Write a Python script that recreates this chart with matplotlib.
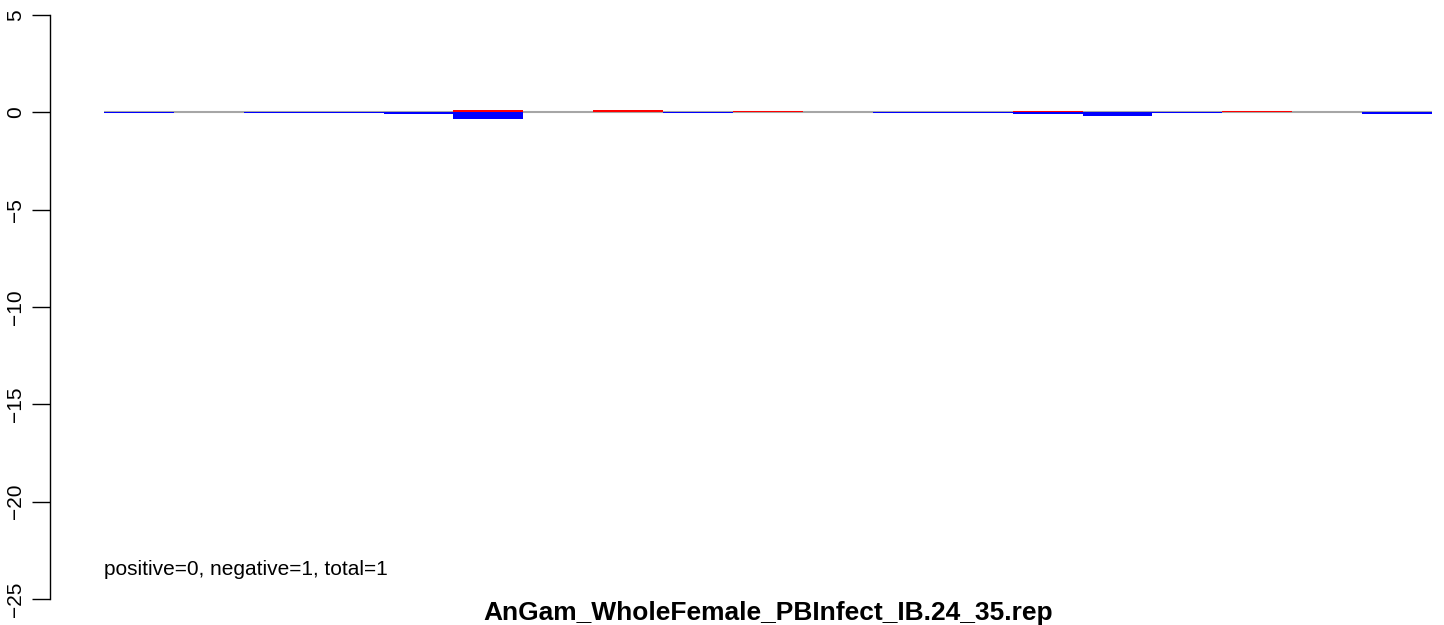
import numpy as np
import matplotlib
matplotlib.use('Agg')
import matplotlib.pyplot as plt

plt.rcParams['font.family'] = ['Liberation Sans', 'DejaVu Sans']

# one slot per window, positive part red, negative part blue
positive = [0, 0, 0, 0, 0, 0.1, 0, 0.1, 0, 0.05, 0, 0, 0, 0.05, 0, 0, 0.05, 0, 0]
negative = [-0.03, 0, -0.03, -0.03, -0.1, -0.36, 0, 0, -0.03, 0, 0,
            -0.03, -0.03, -0.1, -0.19, -0.03, 0, 0, -0.1]
yticks = [5, 0, -5, -10, -15, -20, -25]
note = 'positive=0, negative=1, total=1'
title = 'AnGam_WholeFemale_PBInfect_IB.24_35.rep'

W, H = 1444, 625
fig = plt.figure(figsize=(W / 100, H / 100), dpi=100)

# pixel layout of the plot region
ax_l, ax_r, ax_t, ax_b = 50, 1444, 15, 599
bar_l, bar_r = 104, 1432
n = len(positive)
ppu = (bar_r - bar_l) / n
ax = fig.add_axes([ax_l / W, 1 - ax_b / H, (ax_r - ax_l) / W, (ax_b - ax_t) / H])
ax.set_xlim(-(bar_l - ax_l) / ppu, n + (ax_r - bar_r) / ppu)
ax.set_ylim(-25, 5)

x = np.arange(n)
ax.hlines(0, 0, n, color='#a6a6a6', lw=1.5, zorder=1)
ax.bar(x, positive, width=1, align='edge', color='red', lw=0, zorder=2)
ax.bar(x, negative, width=1, align='edge', color='blue', lw=0, zorder=2)

for s in ['top', 'right', 'bottom']:
    ax.spines[s].set_visible(False)
ax.spines['left'].set_linewidth(1)
ax.set_xticks([])
ax.set_yticks(yticks)
ax.set_yticklabels([str(v).replace('-', '\u2212') for v in yticks], rotation=90,
                   va='center', fontsize=15)
ax.tick_params(axis='y', length=13, width=1, pad=5)

ax.text(0, -23.5, note, fontsize=15, ha='left', va='center')
fig.text((bar_l + bar_r) / 2 / W, 1 - 613 / H, title, fontsize=19,
         fontweight='bold', ha='center', va='center')

fig.savefig('out.png', dpi=100)
